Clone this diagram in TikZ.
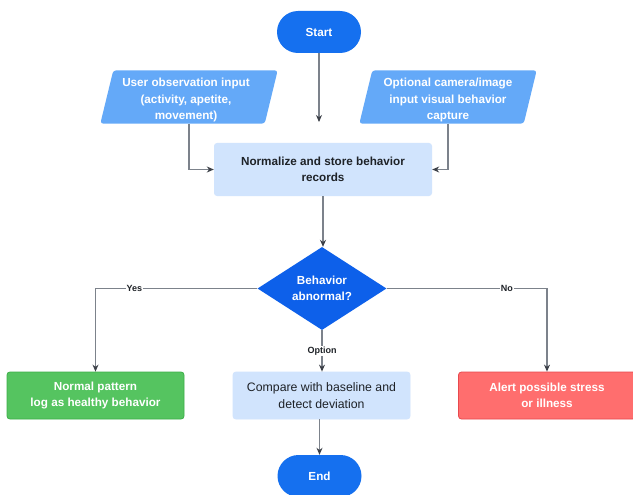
\documentclass[tikz,border=0pt]{standalone}
\usepackage{fontspec}
\setmainfont{Liberation Sans}
\usetikzlibrary{shapes.geometric,arrows.meta,backgrounds,calc}

\definecolor{termblue}{HTML}{1570EF}
\definecolor{decblue}{HTML}{0D60EA}
\definecolor{iofill}{HTML}{64A9F8}
\definecolor{procfill}{HTML}{D1E4FD}
\definecolor{okfill}{HTML}{55C460}
\definecolor{okedge}{HTML}{3CAE48}
\definecolor{alertfill}{HTML}{FF6E6E}
\definecolor{alertedge}{HTML}{E8494E}
\definecolor{linegray}{HTML}{7C828B}
\definecolor{tipgray}{HTML}{3C4048}
\definecolor{darktext}{HTML}{1E2227}

\begin{document}
\begin{tikzpicture}[x=1pt,y=1pt,
  boldtxt/.style={font=\fontsize{11.7}{16.5}\selectfont\bfseries},
  terminal/.style={rectangle, rounded corners=21pt, minimum width=84pt,
    minimum height=42pt, fill=termblue, text=white, boldtxt},
  io/.style={rectangle, minimum width=164pt, minimum height=53pt, inner sep=0pt},
  iotext/.style={text=white, align=center, boldtxt},
  proc/.style={rectangle, rounded corners=3pt, fill=procfill, minimum width=218pt,
    minimum height=53pt, align=center, text=darktext, boldtxt},
  decision/.style={diamond, aspect=1.55, fill=decblue, minimum width=129pt,
    minimum height=83pt, inner sep=1pt, text=white, align=center, boldtxt},
  outcome/.style={rectangle, rounded corners=3pt, minimum width=177pt,
    minimum height=47pt, align=center, line width=0.8pt},
  conn/.style={draw=linegray, line width=1.1pt,
    -{Stealth[length=7pt,width=6pt,color=tipgray]}},
  lbl/.style={fill=white, inner sep=1pt, text=darktext,
    font=\fontsize{9}{10}\selectfont\bfseries}
]
\useasboundingbox (0,0) rectangle (633,-495);

% nodes
\node[terminal] (start) at (319,-32) {Start};
\node[io] (user) at (189,-97) {};
\node[iotext] (usertxt) at (186,-100) {User observation input\\(activity, apetite,\\movement)};
\node[io] (opt) at (448,-97) {};
\node[iotext] (opttxt) at (448,-100) {Optional camera/image\\input visual behavior\\capture};
\node[proc] (norm) at (323,-169.5) {Normalize and store behavior\\records};
\node[decision] (dec) at (322,-288.5) {Behavior\\abnormal?};
\node[outcome, fill=okfill, draw=okedge, text=white, boldtxt] (normal) at (95.5,-395.5)
  {Normal pattern\\log as healthy behavior};
\node[outcome, fill=procfill, draw=procfill, text=darktext,
  font=\fontsize{12.3}{16.5}\selectfont] (compare) at (321.5,-395.5)
  {Compare with baseline and\\detect deviation};
\node[outcome, fill=alertfill, draw=alertedge, text=white, boldtxt] (alert) at (547,-395.5)
  {Alert possible stress\\or illness};
\node[terminal] (end) at (319.5,-476) {End};

% page background and slanted input shapes
\begin{scope}[on background layer]
  \fill[white] (0,0) rectangle (633,-495);
  \foreach \n in {user,opt}
    \fill[iofill, rounded corners=3pt]
      ($(\n.north west)+(6.5,0)$) -- ($(\n.north east)+(6.5,0)$) --
      ($(\n.south east)+(-6.5,0)$) -- ($(\n.south west)+(-6.5,0)$) -- cycle;
\end{scope}

% connectors
\coordinate (feed) at (319,-122);
\draw[conn] (start) -- (feed);
\draw[conn] (user.south) |- (norm.west);
\draw[conn] (opt.south) |- (norm.east);
\draw[conn] (norm.south) -- (norm.south |- dec.north);
\draw[conn] (dec.west) -| node[lbl, pos=0.38] {Yes} (normal.north);
\draw[conn] (dec.east) -| node[lbl, pos=0.375] {No} (alert.north);
\draw[conn] (dec.south) -- node[lbl] {Option} (dec.south |- compare.north);
\draw[conn] (compare.south -| end.north) -- (end.north);
\end{tikzpicture}
\end{document}
